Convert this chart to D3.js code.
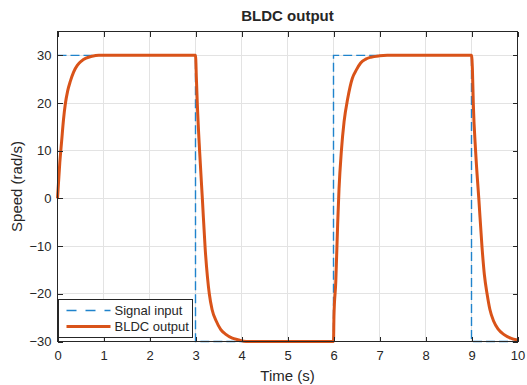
<!DOCTYPE html>
<html>
<head>
<meta charset="utf-8">
<script src="https://cdn.jsdelivr.net/npm/d3@7"></script>
<style>
  html, body { margin: 0; padding: 0; background: #fff; }
  svg { display: block; }
  text { font-family: "Liberation Sans", Arial, Helvetica, sans-serif; fill: #262626; }
</style>
</head>
<body>
<svg id="chart" width="527" height="385"></svg>
<script>
// ---- Data ----
const title = "BLDC output";
const xLabel = "Time (s)";
const yLabel = "Speed (rad/s)";
const xTicks = [0, 1, 2, 3, 4, 5, 6, 7, 8, 9, 10];
const yTicks = [-30, -20, -10, 0, 10, 20, 30];
const seriesNames = ["Signal input", "BLDC output"];

// Signal input (square wave)
const inputTime  = [0, 3, 3, 6, 6, 9, 9, 10];
const inputSpeed = [30, 30, -30, -30, 30, 30, -30, -30];

// BLDC output
const outputTime = [
  0, 0.02, 0.05, 0.09, 0.13, 0.17, 0.22, 0.28, 0.35, 0.43, 0.52, 0.62, 0.75, 0.9, 1.1,
  3.0, 3.02, 3.04, 3.09, 3.15, 3.21, 3.26, 3.30, 3.36, 3.45, 3.55, 3.66, 3.8, 3.92, 4.1,
  6.0, 6.01, 6.05, 6.09, 6.12, 6.17, 6.23, 6.31, 6.41, 6.5, 6.59, 6.7, 6.81, 7.0, 7.17,
  9.0, 9.02, 9.04, 9.09, 9.16, 9.23, 9.28, 9.34, 9.40, 9.48, 9.58, 9.70, 9.85, 10.0
];
const outputSpeed = [
  0, 3, 7.5, 12, 16.5, 19.8, 22.5, 24.6, 26.5, 27.9, 28.8, 29.4, 29.8, 30, 30,
  30, 25, 19.7, 9.8, -0.2, -10.5, -16.5, -20, -23.3, -25.7, -27.5, -28.5, -29.3, -29.6, -30,
  -30, -24.7, -17.4, -5.5, 2, 9.8, 16.1, 21, 25.2, 27, 28.4, 29.2, 29.6, 29.9, 30,
  30, 27, 19.7, 9.8, -0.2, -10.4, -16, -20.1, -23.3, -25.7, -27.4, -28.5, -29.3, -29.7
];

// ---- Layout ----
const svg = d3.select("#chart");
const L = 57.5, R = 517.5, T = 31.5, B = 341.5;
const x = d3.scaleLinear().domain([0, 10]).range([L, R]);
const y = d3.scaleLinear().domain([-30, 35]).range([B, T]);
const axisColor = "#262626";
const gridColor = "#e3e3e3";
const blue = "#1f83cc", orange = "#D95319";

// Background
svg.append("rect").attr("x", L).attr("y", T).attr("width", R - L).attr("height", B - T).attr("fill", "#fff");

// Grid
const grid = svg.append("g").attr("shape-rendering", "crispEdges");
grid.selectAll(".gx").data(xTicks).enter().append("line")
  .attr("x1", d => x(d)).attr("x2", d => x(d)).attr("y1", T).attr("y2", B)
  .attr("stroke", gridColor).attr("stroke-width", 1);
grid.selectAll(".gy").data(yTicks).enter().append("line")
  .attr("x1", L).attr("x2", R).attr("y1", d => y(d)).attr("y2", d => y(d))
  .attr("stroke", gridColor).attr("stroke-width", 1);

// Lines
const inputData = inputTime.map((t, i) => [t, inputSpeed[i]]);
const outputData = outputTime.map((t, i) => [t, outputSpeed[i]]);
const line = d3.line().x(d => x(d[0])).y(d => y(d[1]));

svg.append("path").datum(inputData).attr("d", line)
  .attr("fill", "none").attr("stroke", blue).attr("stroke-width", 1.4)
  .attr("stroke-dasharray", "9,4");

svg.append("path").datum(outputData).attr("d", line.curve(d3.curveMonotoneX))
  .attr("fill", "none").attr("stroke", orange).attr("stroke-width", 3)
  .attr("stroke-linejoin", "round");

// Axes (inward ticks on all four sides)
const tickLen = 5;
const axB = svg.append("g").attr("transform", `translate(0,${B})`)
  .call(d3.axisBottom(x).tickValues(xTicks).tickSize(-tickLen).tickPadding(9).tickFormat(d3.format("d")));
const axT = svg.append("g").attr("transform", `translate(0,${T})`)
  .call(d3.axisTop(x).tickValues(xTicks).tickSize(-tickLen).tickFormat(""));
const axL = svg.append("g").attr("transform", `translate(${L},0)`)
  .call(d3.axisLeft(y).tickValues(yTicks).tickSize(-tickLen).tickPadding(6).tickFormat(d3.format("d")));
const axR = svg.append("g").attr("transform", `translate(${R},0)`)
  .call(d3.axisRight(y).tickValues(yTicks).tickSize(-tickLen).tickFormat(""));
[axB, axT, axL, axR].forEach(a => {
  a.select(".domain").remove();
  a.selectAll(".tick line").attr("stroke", axisColor).attr("stroke-width", 1).attr("shape-rendering", "crispEdges");
  a.selectAll(".tick text").attr("fill", axisColor)
    .style("font-family", "'Liberation Sans', Arial, sans-serif").style("font-size", "13px");
});
axB.selectAll(".tick text").attr("dy", "0.71em");

// Box
svg.append("rect").attr("x", L).attr("y", T).attr("width", R - L).attr("height", B - T)
  .attr("fill", "none").attr("stroke", axisColor).attr("stroke-width", 1).attr("shape-rendering", "crispEdges");

// Title and labels
svg.append("text").attr("x", (L + R) / 2).attr("y", 21).attr("text-anchor", "middle")
  .style("font-size", "15px").style("font-weight", "bold").text(title);
svg.append("text").attr("x", (L + R) / 2).attr("y", 381).attr("text-anchor", "middle")
  .style("font-size", "15px").text(xLabel);
svg.append("text").attr("transform", `translate(22,${(T + B) / 2}) rotate(-90)`)
  .attr("text-anchor", "middle").style("font-size", "15px").text(yLabel);

// Legend
const lg = svg.append("g");
const lx = 58.5, ly = 299.5, lw = 134, lh = 38;
lg.append("rect").attr("x", lx).attr("y", ly).attr("width", lw).attr("height", lh)
  .attr("fill", "#fff").attr("stroke", axisColor).attr("stroke-width", 1).attr("shape-rendering", "crispEdges");
const legendStyles = [
  { color: blue, width: 1.4, dash: "10,9" },
  { color: orange, width: 3, dash: null }
];
seriesNames.forEach((name, i) => {
  const cy = ly + 11 + i * 16;
  lg.append("line").attr("x1", lx + 8).attr("x2", lx + 52).attr("y1", cy).attr("y2", cy)
    .attr("stroke", legendStyles[i].color).attr("stroke-width", legendStyles[i].width)
    .attr("stroke-dasharray", legendStyles[i].dash);
  lg.append("text").attr("x", lx + 56).attr("y", cy).attr("dy", "0.35em")
    .style("font-size", "13px").text(name);
});
</script>
</body>
</html>
